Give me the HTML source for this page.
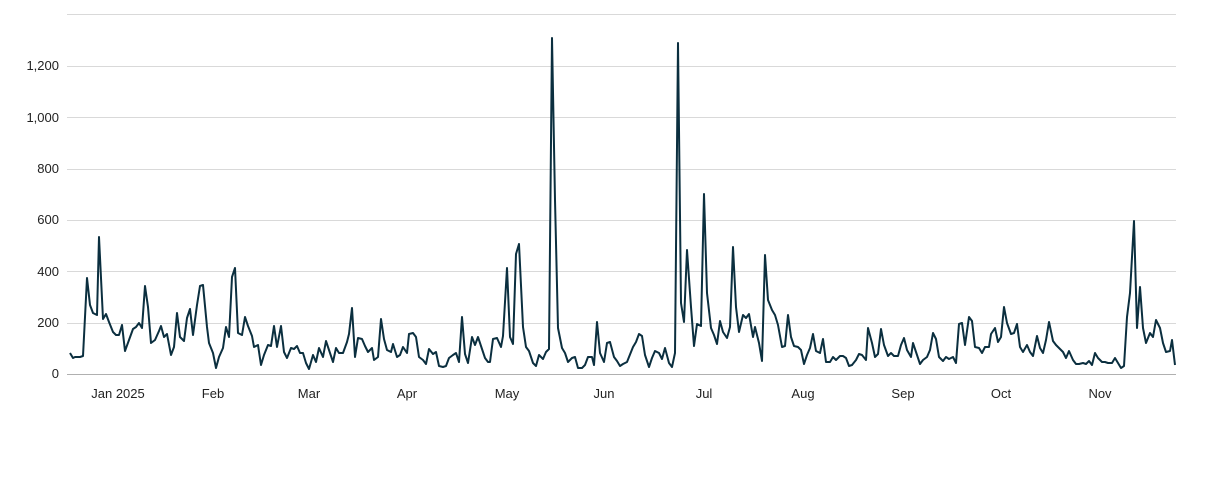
<!DOCTYPE html>
<html><head><meta charset="utf-8"><style>
html,body{margin:0;padding:0;background:#fff;}
svg{display:block;font-family:"Liberation Sans",sans-serif;}
</style></head><body>
<svg width="1217" height="500" viewBox="0 0 1217 500" xmlns="http://www.w3.org/2000/svg">
<g stroke="#d9d9d9" stroke-width="1">
<line x1="67" y1="14.5" x2="1176" y2="14.5"/>
<line x1="67" y1="66.5" x2="1176" y2="66.5"/>
<line x1="67" y1="117.5" x2="1176" y2="117.5"/>
<line x1="67" y1="169.5" x2="1176" y2="169.5"/>
<line x1="67" y1="220.5" x2="1176" y2="220.5"/>
<line x1="67" y1="271.5" x2="1176" y2="271.5"/>
<line x1="67" y1="323.5" x2="1176" y2="323.5"/>
</g>
<line x1="67" y1="374.5" x2="1176" y2="374.5" stroke="#b0b0b0" stroke-width="1"/>
<g font-size="13" fill="#222" text-anchor="end">
<text x="59" y="70">1,200</text>
<text x="59" y="122">1,000</text>
<text x="59" y="173">800</text>
<text x="59" y="224">600</text>
<text x="59" y="276">400</text>
<text x="59" y="327">200</text>
<text x="59" y="378">0</text>
</g>
<g font-size="13" fill="#222" text-anchor="middle">
<text x="118" y="398">Jan 2025</text>
<text x="213" y="398">Feb</text>
<text x="309" y="398">Mar</text>
<text x="407" y="398">Apr</text>
<text x="507" y="398">May</text>
<text x="604" y="398">Jun</text>
<text x="704" y="398">Jul</text>
<text x="803" y="398">Aug</text>
<text x="903" y="398">Sep</text>
<text x="1001" y="398">Oct</text>
<text x="1100" y="398">Nov</text>
</g>
<polyline fill="none" stroke="#0b2f3f" stroke-width="2" stroke-linejoin="round" points="
70,353 73,358 75,357 80,357 83,356 87,278 90,305 93,313 97,315 99,237 103,319 106,314 109,322 113,332 116,335 119,335 122,325 125,351 129,340 133,329 136,327 139,323 142,328 145,286 148,307 151,343 155,340 159,331 161,326 164,337 167,334 171,355 174,347 177,313 180,337 184,341 187,318 190,309 193,335 197,305 200,286 203,285 207,327 209,343 213,353 216,368 219,357 223,348 226,327 229,337 232,277 235,268 238,333 242,335 245,317 248,326 252,336 254,347 258,345 261,365 264,355 268,345 271,346 274,326 277,347 281,326 284,352 287,358 291,348 294,349 297,346 300,353 303,353 306,363 309,369 313,355 316,362 319,348 323,357 326,341 329,350 333,362 336,348 339,353 343,353 347,342 349,334 352,308 355,357 358,338 362,339 365,346 368,352 372,348 374,360 378,357 381,319 384,339 387,350 391,352 393,344 397,357 400,355 403,347 407,353 409,334 413,333 416,337 419,357 423,360 426,364 429,349 433,354 436,352 439,366 443,367 446,366 449,358 453,355 456,353 459,362 462,317 465,354 468,363 472,337 475,345 478,337 482,349 485,358 488,362 490,362 493,339 497,338 501,347 503,336 507,268 510,337 513,344 516,254 519,244 523,327 526,347 529,351 533,363 536,366 539,355 543,359 546,352 549,349 552,38 555,200 558,328 562,348 565,353 568,362 572,358 575,357 578,368 582,368 585,365 588,357 592,357 594,365 597,322 600,353 604,362 607,343 610,342 614,357 617,361 620,366 623,364 627,362 629,357 633,347 636,342 639,334 642,336 645,355 649,367 652,358 655,351 659,353 662,359 665,348 669,363 672,367 675,353 678,43 681,303 684,322 687,250 691,307 694,346 697,324 701,326 704,194 707,293 711,328 714,335 717,344 720,321 723,332 727,338 730,327 733,247 736,307 739,332 743,315 746,318 749,314 753,337 755,327 759,343 762,361 765,255 768,300 772,310 775,315 778,325 782,347 785,346 788,315 791,337 794,346 798,347 801,350 804,364 807,355 810,348 813,334 816,351 820,353 823,339 826,362 830,362 833,357 836,360 840,356 843,356 846,358 849,366 852,365 856,360 859,354 862,355 866,360 868,328 872,343 875,357 878,354 881,329 884,345 888,356 891,353 894,356 898,356 901,345 904,338 907,350 911,357 913,343 917,355 920,364 923,360 927,357 930,350 933,333 936,339 939,357 943,361 946,357 949,359 953,357 956,363 959,324 962,323 965,345 969,317 972,321 975,347 979,348 982,353 985,347 989,347 991,334 995,328 998,342 1001,337 1004,307 1007,323 1011,334 1014,333 1017,324 1020,347 1023,352 1027,345 1030,352 1033,356 1037,336 1040,348 1043,353 1046,340 1049,322 1053,341 1056,345 1059,348 1063,352 1066,358 1069,351 1073,360 1076,364 1079,364 1083,363 1086,364 1089,361 1092,365 1095,353 1098,358 1102,362 1105,362 1108,363 1112,363 1115,358 1118,363 1121,368 1124,366 1127,317 1130,293 1134,221 1137,328 1140,287 1143,328 1146,343 1150,333 1153,337 1156,320 1160,328 1163,343 1166,352 1170,351 1172,340 1175,365"/>
</svg>
</body></html>
